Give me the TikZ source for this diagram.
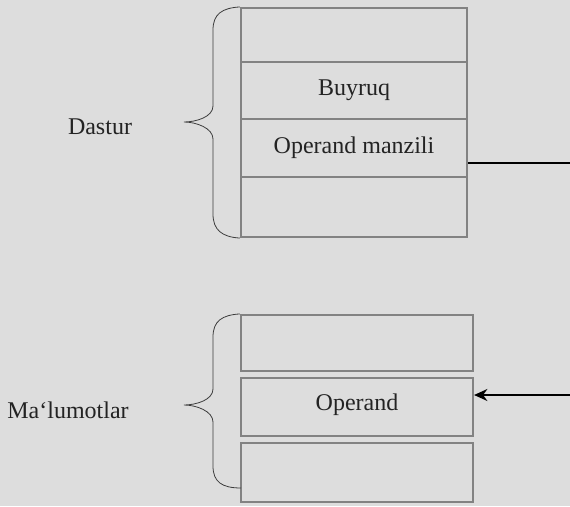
\documentclass[tikz,border=0pt]{standalone}
\usepackage{fontspec}
\setmainfont{Liberation Serif}
\usetikzlibrary{arrows.meta}
\definecolor{bg}{RGB}{221,221,221}
\definecolor{boxgray}{RGB}{130,130,130}
\definecolor{bracegray}{RGB}{60,60,60}
\definecolor{txt}{RGB}{35,35,35}
\begin{document}
\begin{tikzpicture}[x=0.75pt,y=-0.75pt,
  cell/.style={draw=boxgray,line width=1.6pt,rectangle,inner sep=0pt,
    text=txt,font=\fontsize{18}{22}\selectfont},
  topcell/.style={cell,minimum width=169.5pt},
  botcell/.style={cell,minimum width=174pt},
  brace/.style={draw=bracegray,line width=0.6pt},
  conn/.style={draw=black,line width=1.1pt},
  lbl/.style={text=txt,font=\fontsize{18}{22}\selectfont,inner sep=0pt}]
\useasboundingbox (0,0) rectangle (570,506);
\fill[bg] (0,0) rectangle (570,506);
% top group
\node[topcell,minimum height=40.5pt] (t1) at (354,35) {};
\node[topcell,minimum height=42.75pt] (t2) at (354,90.5) {Buyruq};
\node[topcell,minimum height=43.5pt] (t3) at (354,148) {Operand manzili};
\node[topcell,minimum height=45pt] (t4) at (354,207) {};
% bottom group
\node[botcell,minimum height=42pt] (b1) at (357,343) {};
\node[botcell,minimum height=43.5pt] (b2) at (357,407) {};
\node[lbl] (b2t) at (357,405) {Operand};
\node[botcell,minimum height=44.25pt] (b3) at (357,472.5) {};
% labels
\node[lbl] (dastur) at (100,127) {Dastur};
\node[lbl] (malum) at (68,410) {Ma‘lumotlar};
% braces
\draw[brace] (t1.north west) .. controls (222,8) and (213,14) .. (213,30)
  -- (213,106) .. controls (213,117) and (196,122) .. (184,122)
  .. controls (196,122) and (213,128) .. (213,139)
  -- (213,214) .. controls (213,230) and (222,237) .. (t4.south west);
\draw[brace] (b1.north west) .. controls (222,315) and (213,321) .. (213,337)
  -- (213,389) .. controls (213,400) and (196,405) .. (184,405)
  .. controls (196,405) and (213,411) .. (213,422)
  -- (213,466) .. controls (213,482) and (222,488) .. (241,488);
% connectors
\coordinate (ta) at (570,163);
\coordinate (ba) at (570,395);
\draw[conn] (t3.east |- ta) -- (ta);
\draw[conn,-{Stealth[length=10pt,width=9pt]}] (ba) -- (b2.east |- ba);
\end{tikzpicture}
\end{document}
